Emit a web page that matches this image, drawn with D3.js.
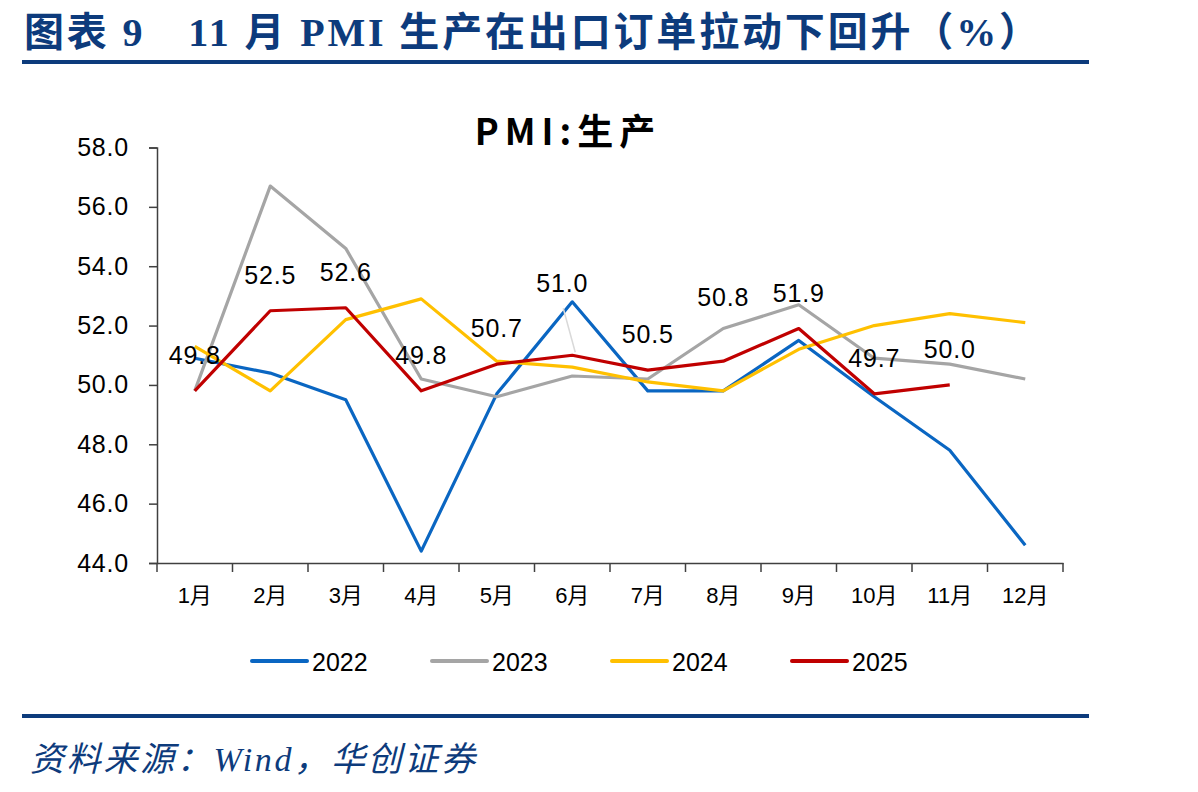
<!DOCTYPE html>
<html lang="zh">
<head>
<meta charset="utf-8">
<script src="https://cdnjs.cloudflare.com/ajax/libs/d3/7.8.5/d3.min.js"></script>
<style>
  body { margin: 0; background: #ffffff; }
  svg { display: block; }
  .axis path, .axis line { stroke: #404040; stroke-width: 1.5px; }
  .axis text { fill: #000; }
</style>
</head>
<body>
<svg id="chart"></svg>
<script>
// data
var months = ["1月", "2月", "3月", "4月", "5月", "6月", "7月", "8月", "9月", "10月", "11月", "12月"];
var years = ["2022", "2023", "2024", "2025"];
var v2022 = [50.9, 50.4, 49.5, 44.4, 49.7, 52.8, 49.8, 49.8, 51.5, 49.6, 47.8, 44.6];
var v2023 = [49.8, 56.7, 54.6, 50.2, 49.6, 50.3, 50.2, 51.9, 52.7, 50.9, 50.7, 50.2];
var v2024 = [51.3, 49.8, 52.2, 52.9, 50.8, 50.6, 50.1, 49.8, 51.2, 52.0, 52.4, 52.1];
var v2025 = [49.8, 52.5, 52.6, 49.8, 50.7, 51.0, 50.5, 50.8, 51.9, 49.7, 50.0];
var yTicks = [44, 46, 48, 50, 52, 54, 56, 58];

var colors = { "2022": "#0a66c2", "2023": "#a5a5a5", "2024": "#ffc000", "2025": "#c00000" };
var seriesData = { "2022": v2022, "2023": v2023, "2024": v2024, "2025": v2025 };

// label nudges for 2025 values (dx, dy in px from the default spot)
var labelNudge = { 5: [-10, -36], 7: [0, -28] };

var W = 1198, H = 792;
var navy = "#0d3b7c";
var svg = d3.select("#chart").attr("width", W).attr("height", H);

// header
svg.append("text")
  .attr("x", 24).attr("y", 46)
  .attr("fill", navy)
  .attr("font-family", "'Liberation Serif', 'Noto Sans CJK SC', serif")
  .attr("font-weight", "bold")
  .attr("font-size", 40)
  .attr("textLength", 1015)
  .attr("lengthAdjust", "spacing")
  .text("图表 9　11 月 PMI 生产在出口订单拉动下回升（%）");
svg.append("rect").attr("x", 22).attr("y", 60).attr("width", 1067).attr("height", 4).attr("fill", navy);
svg.append("rect").attr("x", 22).attr("y", 714).attr("width", 1067).attr("height", 4).attr("fill", navy);
svg.append("text")
  .attr("x", 30).attr("y", 771)
  .attr("fill", navy)
  .attr("font-family", "'Liberation Serif', 'Noto Sans CJK SC', serif")
  .attr("font-style", "italic")
  .attr("font-size", 34)
  .attr("textLength", 445)
  .attr("lengthAdjust", "spacing")
  .text("资料来源：Wind，华创证券");

// chart title
svg.append("text")
  .attr("x", 568).attr("y", 145)
  .attr("text-anchor", "middle")
  .attr("font-family", "'Noto Sans CJK SC', sans-serif")
  .attr("font-weight", "bold")
  .attr("font-size", 36)
  .attr("letter-spacing", 6)
  .text("PMI:生产");

var x = d3.scaleBand().domain(months).range([157, 1063]);
var y = d3.scaleLinear().domain([44, 58]).range([563, 147.5]);

// y axis
var yAxis = svg.append("g").attr("class", "axis")
  .attr("transform", "translate(157,0)")
  .call(d3.axisLeft(y).tickValues(yTicks).tickFormat(d3.format(".1f")).tickSizeOuter(0).tickSize(8).tickPadding(20));
yAxis.selectAll("text")
  .attr("font-family", "'Liberation Sans', Arial, sans-serif")
  .attr("font-size", 25)
  .attr("letter-spacing", 0.8);

// x axis: labels centered in bands, ticks on band edges
var xAxis = svg.append("g").attr("class", "axis")
  .attr("transform", "translate(0,563)")
  .call(d3.axisBottom(x).tickSize(0).tickSizeOuter(0).tickPadding(24));
xAxis.selectAll("text")
  .attr("font-family", "'Liberation Sans', 'Noto Sans CJK SC', sans-serif")
  .attr("font-size", 22);
var edges = months.map(function (m) { return x(m); }).concat([x.range()[1]]);
xAxis.selectAll("line.edge").data(edges).enter().append("line")
  .attr("class", "edge")
  .attr("x1", function (d) { return d; }).attr("x2", function (d) { return d; })
  .attr("y1", 0).attr("y2", 9)
  .attr("stroke", "#404040").attr("stroke-width", 1.5);

var cx = function (d, i) { return x(months[i]) + x.bandwidth() / 2; };
var line = d3.line().x(cx).y(function (d) { return y(d); });

years.forEach(function (yr) {
  svg.append("path")
    .datum(seriesData[yr])
    .attr("d", line)
    .attr("fill", "none")
    .attr("stroke", colors[yr])
    .attr("stroke-width", 3.2)
    .attr("stroke-linejoin", "round");
});

// leader line for the nudged 6月 label
svg.append("line")
  .attr("x1", cx(null, 5) - 9).attr("y1", y(v2025[5]) - 47)
  .attr("x2", cx(null, 5) + 3).attr("y2", y(v2025[5]) - 3)
  .attr("stroke", "#d9d9d9").attr("stroke-width", 1.5);

// data labels for 2025
svg.selectAll("text.dl").data(v2025).enter().append("text")
  .attr("class", "dl")
  .attr("x", function (d, i) { return cx(d, i) + (labelNudge[i] ? labelNudge[i][0] : 0); })
  .attr("y", function (d, i) { return y(d) - 27 + (labelNudge[i] ? labelNudge[i][1] : 0); })
  .attr("text-anchor", "middle")
  .attr("font-family", "'Liberation Sans', Arial, sans-serif")
  .attr("font-size", 25)
  .attr("letter-spacing", 0.8)
  .text(function (d) { return d3.format(".1f")(d); });

// legend
var legX = [252, 432, 612, 792];
var leg = svg.selectAll("g.leg").data(years).enter().append("g")
  .attr("class", "leg")
  .attr("transform", function (d, i) { return "translate(" + legX[i] + ",661)"; });
leg.append("line")
  .attr("x1", 0).attr("x2", 55).attr("y1", 0).attr("y2", 0)
  .attr("stroke", function (d) { return colors[d]; })
  .attr("stroke-width", 4).attr("stroke-linecap", "round");
leg.append("text")
  .attr("x", 60).attr("y", 10)
  .attr("font-family", "'Liberation Sans', Arial, sans-serif")
  .attr("font-size", 25)
  .text(function (d) { return d; });
</script>
</body>
</html>
